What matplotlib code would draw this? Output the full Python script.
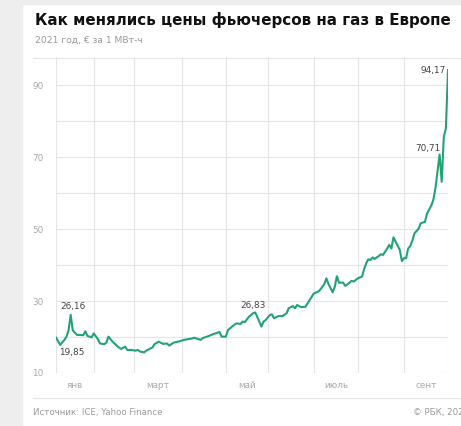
import matplotlib
import matplotlib.pyplot as plt
from matplotlib.patches import Rectangle
from matplotlib.lines import Line2D

matplotlib.use('agg')

# trading-day index and TTF price, € per MWh
day = [0, 2, 4, 5, 6, 7, 8, 9, 10, 13, 14, 15, 17, 18, 20, 21, 23, 24, 25, 27,
       29, 30, 31, 33, 34, 36, 38, 39, 40, 42, 43, 46, 47, 49, 51, 53, 54, 56, 58, 59,
       61, 63, 65, 66, 69, 70, 73, 75, 78, 79, 81, 82, 84, 86, 88, 89, 90, 92, 94, 95,
       96, 98, 99, 100, 102, 103, 104, 106, 108, 110, 111, 113, 114, 115, 117, 119, 121, 123, 125, 126,
       128, 129, 130, 132, 133, 134, 135, 137, 138, 140, 141, 142, 144, 146, 147, 148, 149, 150, 151, 152,
       154, 155, 156, 158, 159, 160, 161, 162, 164, 165, 166, 167, 168, 169, 170, 171, 173, 174, 176, 177,
       179, 180, 181, 183, 184, 185, 186, 187]
price = [19.85, 17.8, 19.2, 20.1, 21.9, 26.16, 21.9, 21.2, 20.6, 20.5, 21.6, 20.3, 19.9, 21.0, 19.4, 18.2, 18.0, 18.4, 20.1, 18.7,
         17.6, 17.1, 16.7, 17.3, 16.4, 16.4, 16.2, 16.4, 16.0, 15.7, 16.2, 17.1, 18.0, 18.7, 18.1, 18.2, 17.6, 18.4, 18.7, 18.8,
         19.2, 19.4, 19.6, 19.8, 19.2, 19.7, 20.3, 20.8, 21.4, 20.1, 20.1, 21.9, 22.9, 23.8, 23.6, 24.3, 24.1, 25.6, 26.6, 26.83,
         25.6, 22.9, 24.3, 24.7, 26.1, 26.3, 25.2, 25.8, 25.8, 26.6, 28.0, 28.6, 28.0, 28.9, 28.3, 28.4, 30.3, 32.1, 32.6, 33.1,
         34.7, 36.3, 34.7, 32.4, 34.0, 36.9, 35.1, 35.1, 34.2, 35.1, 35.6, 35.4, 36.3, 36.8, 38.9, 40.5, 41.6, 41.4, 42.1, 41.7,
         42.5, 43.0, 42.8, 44.6, 45.6, 44.6, 47.7, 46.5, 44.2, 41.1, 41.9, 41.9, 44.6, 45.3, 46.8, 48.8, 50.1, 51.6, 52.0, 54.3,
         56.5, 58.1, 61.3, 70.71, 63.1, 75.6, 78.0, 94.17]

# month boundaries (trading-day index) and labelled months
month_edges = [0, 18, 37, 60, 81, 101, 123, 144, 166, 187]
month_labels = ['янв', 'март', 'май', 'июль', 'сент']

# labelled points: (day, price, text)
callouts = [(7, 26.16, '26,16'), (0, 19.85, '19,85'), (95, 26.83, '26,83'),
            (183, 70.71, '70,71'), (187, 94.17, '94,17')]
callout_offsets = [(2, 8), (16, -15), (-2, 7), (-12, 6), (-15, 0)]

plt.rcParams['font.family'] = ['DejaVu Sans']

W, H = 461, 426
fig = plt.figure(figsize=(W / 100, H / 100), dpi=100)
fig.patch.set_facecolor('white')

# grey page behind the card
fig.add_artist(Rectangle((0, 0), 22 / W, 1, transform=fig.transFigure,
                         color='#eeeeee', zorder=0))
fig.add_artist(Rectangle((0, 1 - 4 / H), 1, 4 / H, transform=fig.transFigure,
                         color='#eeeeee', zorder=0))

fig.text(35 / W, 1 - 20 / H, 'Как менялись цены фьючерсов на газ в Европе',
         fontsize=10.9, fontweight='bold', color='#111111', va='center', ha='left')
fig.text(35 / W, 1 - 40 / H, '2021 год, € за 1 МВт-ч',
         fontsize=6.6, color='#9a9a9a', va='center', ha='left')

# separators
fig.add_artist(Line2D([33 / W, 1], [1 - 57.5 / H] * 2, transform=fig.transFigure,
                      color='#e6e6e6', lw=0.8))
fig.add_artist(Line2D([33 / W, 1], [1 - 398 / H] * 2, transform=fig.transFigure,
                      color='#e6e6e6', lw=0.8))

fig.text(33 / W, 1 - 412 / H, 'Источник: ICE, Yahoo Finance',
         fontsize=6.2, color='#9a9a9a', va='center', ha='left')
# the reference cuts this one off at the right edge
fig.text(413 / W, 1 - 412 / H, '© РБК, 2021',
         fontsize=6.2, color='#9a9a9a', va='center', ha='left')

ax = fig.add_axes([56 / W, 53 / H, 392 / W, 316 / H])
ax.set_xlim(month_edges[0], month_edges[-1])
ax.set_ylim(10, 97.8)

# grid
for m in month_edges:
    ax.axvline(m, color='#e6e6e6', lw=0.8, zorder=1)
for g in range(10, 100, 10):
    ax.axhline(g, color='#e6e6e6', lw=0.8, zorder=1)

ax.plot(day, price, color='#22a374', lw=1.5, zorder=3, solid_joinstyle='round')

for (d, p, t), off in zip(callouts, callout_offsets):
    ax.annotate(t, (d, p), xytext=off, textcoords='offset pixels',
                ha='center', va='center', fontsize=6.4, color='#444444', zorder=4)

ax.set_yticks(range(10, 100, 20))
ax.set_yticklabels([str(v) for v in range(10, 100, 20)])
mids = [(month_edges[i] + month_edges[i + 1]) / 2 for i in range(0, 9, 2)]
ax.set_xticks(mids)
ax.set_xticklabels(month_labels)
ax.tick_params(axis='both', length=0, labelsize=6.4, labelcolor='#aaaaaa')
ax.tick_params(axis='y', pad=9)
ax.tick_params(axis='x', pad=6)
for s in ax.spines.values():
    s.set_visible(False)

fig.savefig('out.png', dpi=100)
plt.close()
